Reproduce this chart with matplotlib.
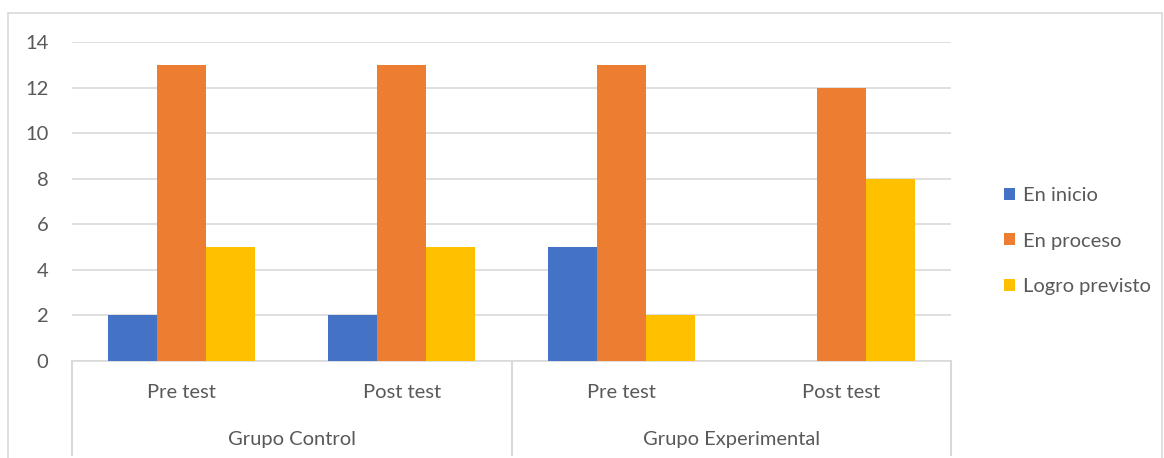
import matplotlib.pyplot as plt
from matplotlib.patches import Patch, Rectangle
from matplotlib.lines import Line2D
import numpy as np

# datos del grafico
grupos = ["Grupo Control", "Grupo Experimental"]
momentos = ["Pre test", "Post test", "Pre test", "Post test"]
series = ["En inicio", "En proceso", "Logro previsto"]
en_inicio = [2, 2, 5, 0]
en_proceso = [13, 13, 13, 12]
logro_previsto = [5, 5, 2, 8]
colores = ["#4472C4", "#ED7D31", "#FFC000"]

plt.rcParams['font.family'] = ['Lato', 'DejaVu Sans']
texto = "#595959"
rejilla = "#D9D9D9"
fs = 14.5

fig = plt.figure(figsize=(11.64, 4.58), dpi=100)
ax = fig.add_axes([72 / 1164, 1 - 361 / 458, (951 - 72) / 1164, (361 - 42) / 458])

x = np.arange(len(momentos))
ancho = 0.223
valores = [en_inicio, en_proceso, logro_previsto]
for i, (nombre, vals) in enumerate(zip(series, valores)):
    ax.bar(x + (i - 1) * ancho, vals, ancho, color=colores[i], label=nombre, zorder=3)

ax.set_xlim(-0.5, len(momentos) - 0.5)
ax.set_ylim(0, 14)
ax.set_yticks(range(0, 15, 2))
ax.yaxis.grid(True, color=rejilla, linewidth=1.2, zorder=0)
ax.tick_params(axis='y', length=0, labelsize=fs, labelcolor=texto, pad=17)
ax.set_xticks([])
for lado in ['top', 'right', 'left']:
    ax.spines[lado].set_visible(False)
ax.spines['bottom'].set_color(rejilla)
ax.spines['bottom'].set_linewidth(1.2)

# eje de categorias en dos niveles
trans = ax.get_xaxis_transform()
for xi, m in zip(x, momentos):
    ax.text(xi, -0.1, m, transform=trans, ha='center', va='center',
            fontsize=fs, color=texto)
for k, g in enumerate(grupos):
    ax.text(2 * k + 0.5, -0.245, g, transform=trans, ha='center', va='center',
            fontsize=fs, color=texto)
for xs in [-0.5, 1.5, 3.5]:
    ax.add_line(Line2D([xs, xs], [0, -0.295], transform=trans, color=rejilla,
                       linewidth=1.5, clip_on=False))

handles = [Patch(facecolor=c) for c in colores]
fig.legend(handles, series, loc='center left', bbox_to_anchor=(986 / 1164, 1 - 241 / 458),
           frameon=False, fontsize=fs, labelcolor=texto, handlelength=0.55,
           handleheight=0.55, handletextpad=0.4, labelspacing=1.42)

# borde del area del grafico
fig.patches.append(Rectangle((8 / 1164, -0.02), 1154 / 1164, 1 - 13 / 458 + 0.02,
                             transform=fig.transFigure, fill=False,
                             edgecolor=rejilla, linewidth=1.2))

fig.savefig("out.png", dpi=100)
